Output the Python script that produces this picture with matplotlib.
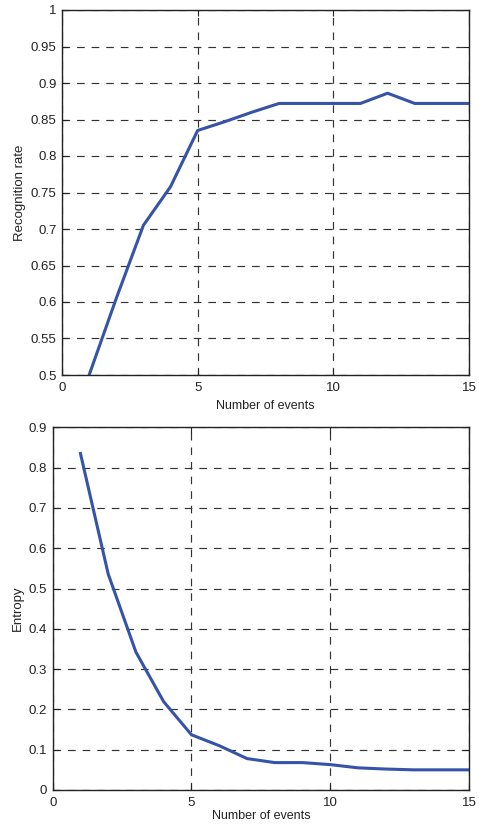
import matplotlib
matplotlib.use("Agg")
import matplotlib.pyplot as plt
import numpy as np

plt.rcParams['font.family'] = ['Liberation Sans', 'DejaVu Sans']
plt.rcParams['lines.scale_dashes'] = False

# Data
events = [1, 2, 3, 4, 5, 6, 7, 8, 9, 10, 11, 12, 13, 14, 15]
recognition_rate = [0.500, 0.605, 0.705, 0.758, 0.835, 0.847, 0.860, 0.872, 0.872,
                    0.872, 0.872, 0.886, 0.872, 0.872, 0.872]
entropy = [0.835, 0.536, 0.342, 0.219, 0.137, 0.110, 0.078, 0.068, 0.068,
           0.063, 0.055, 0.052, 0.050, 0.050, 0.050]

x_ticks = [0, 5, 10, 15]
top_yticks = [0.5, 0.55, 0.6, 0.65, 0.7, 0.75, 0.8, 0.85, 0.9, 0.95, 1]
top_yticklabels = ['0.5', '0.55', '0.6', '0.65', '0.7', '0.75', '0.8', '0.85', '0.9', '0.95', '1']
bot_yticks = [0, 0.1, 0.2, 0.3, 0.4, 0.5, 0.6, 0.7, 0.8, 0.9]
bot_yticklabels = ['0', '0.1', '0.2', '0.3', '0.4', '0.5', '0.6', '0.7', '0.8', '0.9']

W, H = 479, 827
fig = plt.figure(figsize=(W / 100, H / 100), dpi=100)

def px_axes(l, t, r, b):
    return fig.add_axes([l / W, 1 - b / H, (r - l) / W, (b - t) / H])

ax1 = px_axes(62, 10, 469, 375)
ax2 = px_axes(52.7, 427.3, 469, 790)

line_color = '#3553a8'
grid_kw = dict(color='#333333', linewidth=0.85, linestyle=(0, (5.5, 5)))

def style(ax, yticks, yticklabels, ylim, ylabel, ylabel_x, xlabel_y):
    ax.set_xlim(0, 15)
    ax.set_ylim(*ylim)
    ax.set_xticks(x_ticks)
    ax.set_yticks(yticks)
    ax.set_yticklabels(yticklabels)
    ax.tick_params(direction='in', length=4, width=0.8, labelsize=9.5,
                   top=True, right=True, colors='#222222', pad=4)
    ax.tick_params(axis='x', pad=5)
    for s in ax.spines.values():
        s.set_linewidth(1.0)
        s.set_color('#222222')
    ax.grid(True, **grid_kw)
    ax.set_axisbelow(True)
    ax.set_xlabel('Number of events', fontsize=9, color='#222222')
    ax.set_ylabel(ylabel, fontsize=9.5, color='#222222', va='center')
    ax.yaxis.set_label_coords(ylabel_x, 0.5)
    ax.xaxis.set_label_coords(0.5, xlabel_y)

ax1.plot(events, recognition_rate, color=line_color, linewidth=2.2)
style(ax1, top_yticks, top_yticklabels, (0.5, 1.0), 'Recognition rate', -0.103, -0.068)

ax2.plot(events, entropy, color=line_color, linewidth=2.2)
style(ax2, bot_yticks, bot_yticklabels, (0, 0.9), 'Entropy', -0.083, -0.055)

fig.savefig('out.png', dpi=100)
